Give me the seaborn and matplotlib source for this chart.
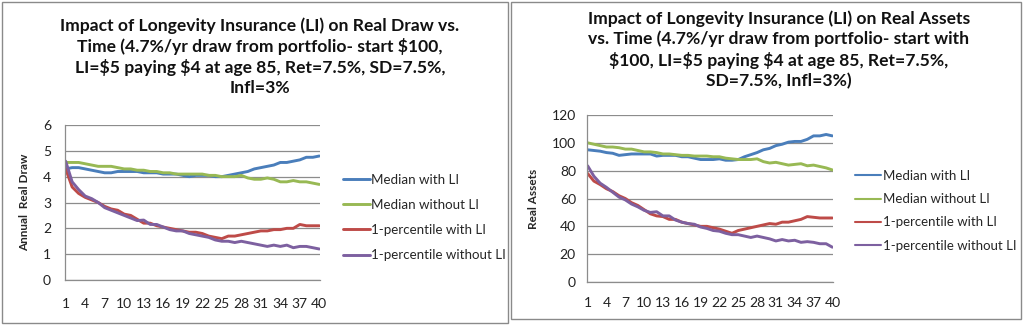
import numpy as np
import pandas as pd
import matplotlib
matplotlib.use("Agg")
import matplotlib.pyplot as plt
from matplotlib.patches import Rectangle
import seaborn as sns

years = list(range(1, 41))
series_names = ["Median with LI", "Median without LI", "1-percentile with LI", "1-percentile without LI"]

draw_median_li = [4.30, 4.35, 4.35, 4.30, 4.25, 4.20, 4.15, 4.15, 4.20, 4.20,
                  4.20, 4.20, 4.15, 4.15, 4.15, 4.10, 4.10, 4.10, 4.05, 4.00,
                  4.05, 4.05, 4.05, 4.00, 4.00, 4.05, 4.10, 4.15, 4.20, 4.30,
                  4.35, 4.40, 4.45, 4.55, 4.55, 4.60, 4.65, 4.75, 4.75, 4.80]
draw_median_noli = [4.55, 4.55, 4.55, 4.50, 4.45, 4.40, 4.40, 4.40, 4.35, 4.30,
                    4.30, 4.25, 4.25, 4.20, 4.20, 4.15, 4.15, 4.10, 4.10, 4.10,
                    4.10, 4.10, 4.05, 4.05, 4.00, 4.00, 4.00, 4.05, 3.95, 3.90,
                    3.90, 3.95, 3.90, 3.80, 3.80, 3.85, 3.80, 3.80, 3.75, 3.70]
draw_p1_li = [4.30, 3.60, 3.35, 3.20, 3.10, 3.00, 2.85, 2.75, 2.70, 2.55,
              2.50, 2.35, 2.20, 2.20, 2.10, 2.05, 2.00, 1.95, 1.90, 1.85,
              1.85, 1.80, 1.70, 1.65, 1.60, 1.70, 1.70, 1.75, 1.80, 1.85,
              1.90, 1.90, 1.95, 1.95, 2.00, 2.00, 2.15, 2.10, 2.10, 2.10]
draw_p1_noli = [4.60, 3.80, 3.50, 3.25, 3.15, 3.00, 2.80, 2.70, 2.60, 2.50,
                2.40, 2.30, 2.32, 2.15, 2.15, 2.05, 1.95, 1.90, 1.90, 1.80,
                1.75, 1.70, 1.65, 1.55, 1.50, 1.50, 1.45, 1.50, 1.45, 1.40,
                1.35, 1.30, 1.35, 1.30, 1.35, 1.25, 1.30, 1.30, 1.25, 1.20]

assets_median_li = [95.0, 94.5, 94.0, 93.0, 92.5, 91.0, 91.5, 92.0, 92.0, 92.0,
                    92.0, 90.5, 91.0, 91.0, 91.0, 90.0, 90.0, 89.0, 88.0, 88.0,
                    88.0, 88.5, 87.5, 87.5, 88.0, 90.0, 91.5, 93.0, 95.0, 96.0,
                    98.0, 99.0, 100.5, 101.0, 101.0, 102.5, 105.0, 105.0, 106.0, 105.0]
assets_median_noli = [100.0, 99.0, 98.0, 97.0, 97.0, 96.5, 95.5, 95.5, 94.5, 93.5,
                      93.5, 93.0, 92.0, 92.0, 91.5, 91.0, 91.0, 90.5, 90.5, 90.5,
                      90.0, 90.0, 89.0, 88.5, 88.0, 88.0, 88.0, 88.5, 86.5, 85.5,
                      86.0, 85.0, 84.0, 84.5, 85.0, 83.5, 84.0, 83.0, 82.0, 80.5]
assets_p1_li = [78.0, 72.5, 70.0, 67.0, 65.0, 62.0, 60.0, 57.0, 55.0, 52.0,
                49.0, 47.5, 47.0, 45.0, 45.0, 43.0, 42.0, 41.0, 40.0, 40.0,
                39.0, 38.0, 36.5, 35.0, 37.0, 38.0, 39.0, 40.0, 41.0, 42.0,
                41.5, 43.0, 43.0, 44.0, 45.0, 47.0, 46.5, 46.0, 46.0, 46.0]
assets_p1_noli = [83.5, 76.0, 71.0, 68.0, 64.5, 61.0, 59.0, 56.0, 54.0, 51.5,
                  50.0, 50.5, 47.5, 47.5, 44.5, 43.0, 42.0, 41.5, 39.5, 38.5,
                  37.0, 36.5, 35.0, 34.0, 34.0, 33.0, 32.0, 33.0, 32.0, 31.0,
                  29.5, 30.5, 29.5, 30.0, 28.5, 29.0, 28.5, 27.5, 27.5, 25.0]

x_ticks = list(range(1, 41, 3))
draw_yticks = [0, 1, 2, 3, 4, 5, 6]
assets_yticks = [0, 20, 40, 60, 80, 100, 120]

title_left = ("Impact of Longevity Insurance (LI) on Real Draw vs.\n"
              "Time (4.7%/yr draw from portfolio- start $100,\n"
              "LI=$5 paying $4 at age 85, Ret=7.5%, SD=7.5%,\n"
              "Infl=3%")
title_right = ("Impact of Longevity Insurance (LI) on Real Assets\n"
               "vs. Time (4.7%/yr draw from portfolio- start with\n"
               "$100, LI=$5 paying $4 at age 85, Ret=7.5%,\n"
               "SD=7.5%, Infl=3%)")

colors = ["#4A7EBB", "#98B954", "#BE4B48", "#7D60A0"]

sns.set_theme(style="white")
plt.rcParams["font.family"] = ["Lato", "DejaVu Sans"]


def long_df(cols):
    rows = []
    for name, vals in zip(series_names, cols):
        for yr, v in zip(years, vals):
            rows.append({"Year": yr, "Value": v, "Series": name})
    return pd.DataFrame(rows)


df_draw = long_df([draw_median_li, draw_median_noli, draw_p1_li, draw_p1_noli])
df_assets = long_df([assets_median_li, assets_median_noli, assets_p1_li, assets_p1_noli])

fig = plt.figure(figsize=(10.24, 3.28), dpi=100)

# panel borders
fig.patches.append(Rectangle((2 / 1024, 1 - 323 / 328), 506 / 1024, 321 / 328,
                             transform=fig.transFigure, fill=False,
                             edgecolor="#8a8a8a", linewidth=1.0))
fig.patches.append(Rectangle((511 / 1024, 1 - 319 / 328), 510 / 1024, 317 / 328,
                             transform=fig.transFigure, fill=False,
                             edgecolor="#8a8a8a", linewidth=1.0))

ax1 = fig.add_axes([65 / 1024, 1 - 280 / 328, 255 / 1024, 155 / 328])
ax2 = fig.add_axes([587 / 1024, 1 - 282 / 328, 246 / 1024, 167 / 328])


def style_axes(ax, yticks, ylabel, ylim, xpad, ypad):
    ax.set_xlim(0.9, 40.1)
    ax.set_ylim(*ylim)
    ax.set_xticks(x_ticks)
    ax.set_yticks(yticks)
    ax.tick_params(axis="both", labelsize=10, length=0, colors="#222222")
    ax.tick_params(axis="x", pad=xpad)
    ax.tick_params(axis="y", pad=ypad)
    ax.grid(axis="y", color="#8c8c8c", linewidth=0.9)
    ax.grid(axis="x", visible=False)
    for s in ["top", "right"]:
        ax.spines[s].set_visible(False)
    for s in ["left", "bottom"]:
        ax.spines[s].set_color("#8c8c8c")
        ax.spines[s].set_linewidth(0.9)
    ax.set_xlabel("")
    ax.set_ylabel(ylabel, fontsize=8.5, fontweight="bold", labelpad=9)
    ax.set_axisbelow(True)


sns.lineplot(data=df_draw, x="Year", y="Value", hue="Series", palette=colors,
             linewidth=2.1, ax=ax1, legend=True)
style_axes(ax1, draw_yticks, "Annual  Real Draw", (0, 6), 13, 10)
ax1.legend(loc="upper left", bbox_to_anchor=(343 / 1024, 1 - 174 / 328),
           bbox_transform=fig.transFigure, frameon=False, fontsize=9.6,
           handlelength=2.0, handletextpad=0.12, labelspacing=0.98,
           borderpad=0, borderaxespad=0)

sns.lineplot(data=df_assets, x="Year", y="Value", hue="Series", palette=colors,
             linewidth=2.1, ax=ax2, legend=True)
style_axes(ax2, assets_yticks, "Real Assets", (0, 120), 11, 8)
leg2 = ax2.legend(loc="upper left", bbox_to_anchor=(855 / 1024, 1 - 170 / 328),
                  bbox_transform=fig.transFigure, frameon=False, fontsize=9.5,
                  handlelength=2.0, handletextpad=0.1, labelspacing=0.85,
                  borderpad=0, borderaxespad=0)
for h in leg2.get_lines():
    h.set_linewidth(1.5)

fig.text(260 / 1024, 1 - 17 / 328, title_left, ha="center", va="top",
         fontsize=12.6, fontweight="bold", linespacing=1.3, color="#111111",
         parse_math=False)
fig.text(779 / 1024, 1 - 10 / 328, title_right, ha="center", va="top",
         fontsize=12.6, fontweight="bold", linespacing=1.32, color="#111111",
         parse_math=False)

fig.savefig("out.png", dpi=100)
